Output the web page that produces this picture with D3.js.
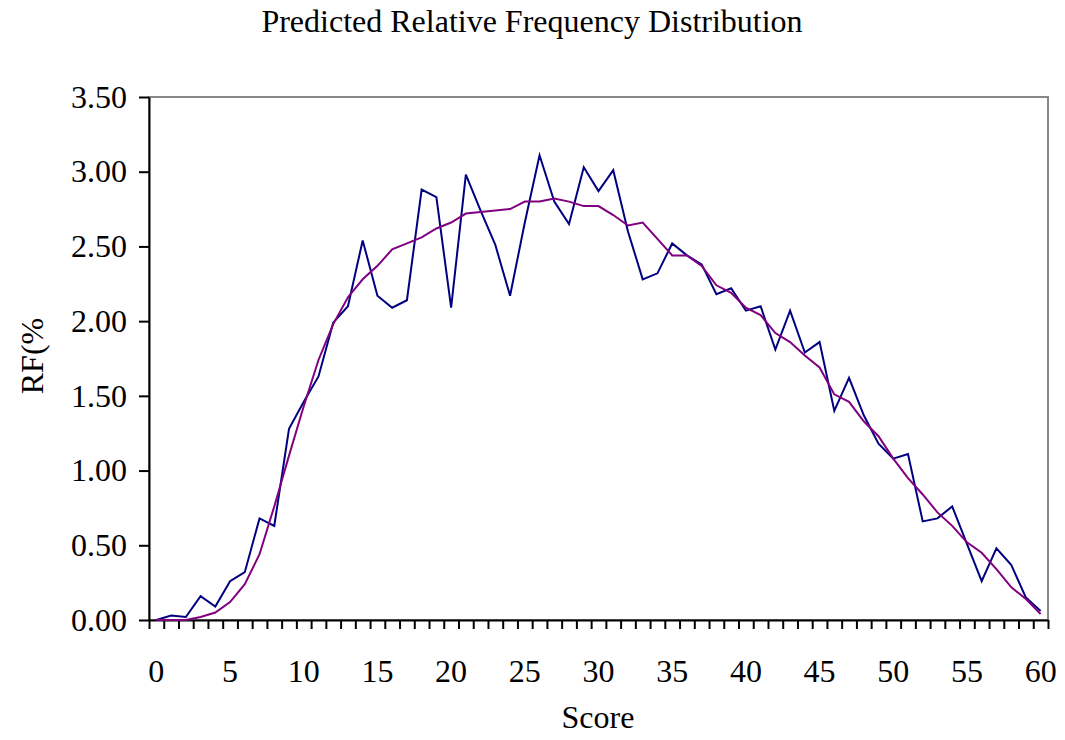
<!DOCTYPE html>
<html>
<head>
<meta charset="utf-8">
<script src="https://cdn.jsdelivr.net/npm/d3@7"></script>
<style>
  body { margin: 0; background: #fff; }
  svg { display: block; }
  svg text { font-family: 'Liberation Serif', 'Times New Roman', serif; fill: #000; }
  .axis path, .axis line { stroke: #000; stroke-width: 2; }
  .axis text { font-size: 32px; }
</style>
</head>
<body>
<svg class="chart" width="1065" height="740"></svg>
<script>
// categories: score 0..60
const scores = d3.range(0, 61);

// observed relative frequency (%), navy line
const observed = [
    0.00, 0.03, 0.02, 0.16, 0.09, 0.26, 0.32, 0.68, 0.63, 1.28,
    1.46, 1.63, 1.99, 2.10, 2.54, 2.17, 2.09, 2.14, 2.88, 2.83,
    2.09, 2.98, 2.74, 2.51, 2.17, 2.66, 3.11, 2.80, 2.65, 3.03,
    2.87, 3.01, 2.60, 2.28, 2.32, 2.52, 2.44, 2.38, 2.18, 2.22,
    2.07, 2.10, 1.81, 2.07, 1.79, 1.86, 1.40, 1.62, 1.37, 1.18,
    1.08, 1.11, 0.66, 0.68, 0.76, 0.51, 0.26, 0.48, 0.37, 0.15,
    0.06
];

// predicted relative frequency (%), purple line
const predicted = [
    0.00, 0.00, 0.00, 0.02, 0.05, 0.12, 0.24, 0.44, 0.76, 1.10,
    1.43, 1.74, 1.98, 2.16, 2.28, 2.37, 2.48, 2.52, 2.56, 2.62,
    2.66, 2.72, 2.73, 2.74, 2.75, 2.80, 2.80, 2.82, 2.80, 2.77,
    2.77, 2.71, 2.64, 2.66, 2.55, 2.44, 2.44, 2.37, 2.24, 2.19,
    2.09, 2.04, 1.92, 1.86, 1.77, 1.69, 1.51, 1.46, 1.33, 1.23,
    1.08, 0.95, 0.84, 0.72, 0.63, 0.52, 0.45, 0.34, 0.22, 0.14,
    0.04
];

const yTicks = [0, 0.5, 1, 1.5, 2, 2.5, 3, 3.5];
const xLabels = [0, 5, 10, 15, 20, 25, 30, 35, 40, 45, 50, 55, 60];

const svg = d3.select('svg.chart');
const plotLeft = 149, plotRight = 1048, plotTop = 97, plotBottom = 620;

// category positions (ticks sit between categories)
const xScale = d3.scaleBand()
    .domain(scores)
    .range([plotLeft, plotRight]);
const xEdge = d3.scaleLinear()
    .domain([-0.5, scores.length - 0.5])
    .range([plotLeft, plotRight]);

const yScale = d3.scaleLinear()
    .domain([0, 3.5])
    .range([plotBottom, plotTop]);

// plot area border (grey top / right)
svg.append('rect')
    .attr('x', plotLeft)
    .attr('y', plotTop)
    .attr('width', plotRight - plotLeft)
    .attr('height', plotBottom - plotTop)
    .attr('fill', 'none')
    .attr('stroke', '#888')
    .attr('stroke-width', 2);

// y axis
svg.append('g')
    .attr('class', 'axis')
    .attr('transform', `translate(${plotLeft}, 0)`)
    .call(d3.axisLeft(yScale)
        .tickValues(yTicks)
        .tickSize(10)
        .tickSizeOuter(0)
        .tickPadding(12)
        .tickFormat(d3.format('.2f')))
    .attr('font-family', null)
    .attr('font-size', null);

// x axis tick marks between categories
svg.append('g')
    .attr('class', 'axis')
    .attr('transform', `translate(0, ${plotBottom})`)
    .call(d3.axisBottom(xEdge)
        .tickValues(d3.range(-0.5, scores.length, 1))
        .tickSize(9)
        .tickSizeOuter(0)
        .tickFormat(''));

// x labels every 5
svg.append('g')
    .attr('class', 'axis')
    .attr('transform', `translate(0, ${plotBottom})`)
    .call(d3.axisBottom(xScale)
        .tickValues(xLabels)
        .tickSize(0)
        .tickPadding(39))
    .attr('font-family', null)
    .attr('font-size', null)
    .call((g) => g.select('.domain').remove());

// lines
const line = (vals) => d3.line()
    .x((d, i) => xScale(scores[i]) + xScale.bandwidth() / 2)
    .y((d) => yScale(d))(vals);

svg.append('path')
    .attr('d', line(observed))
    .attr('fill', 'none')
    .attr('stroke', '#000080')
    .attr('stroke-width', 2);

svg.append('path')
    .attr('d', line(predicted))
    .attr('fill', 'none')
    .attr('stroke', '#800080')
    .attr('stroke-width', 2);

// title
svg.append('text')
    .attr('x', 532)
    .attr('y', 32)
    .attr('text-anchor', 'middle')
    .attr('font-size', 32)
    .text('Predicted Relative Frequency Distribution');

// axis titles
svg.append('text')
    .attr('x', 598)
    .attr('y', 728)
    .attr('text-anchor', 'middle')
    .attr('font-size', 32)
    .text('Score');

svg.append('text')
    .attr('transform', 'translate(43, 356) rotate(-90)')
    .attr('text-anchor', 'middle')
    .attr('font-size', 32)
    .text('RF(%');
</script>
</body>
</html>
